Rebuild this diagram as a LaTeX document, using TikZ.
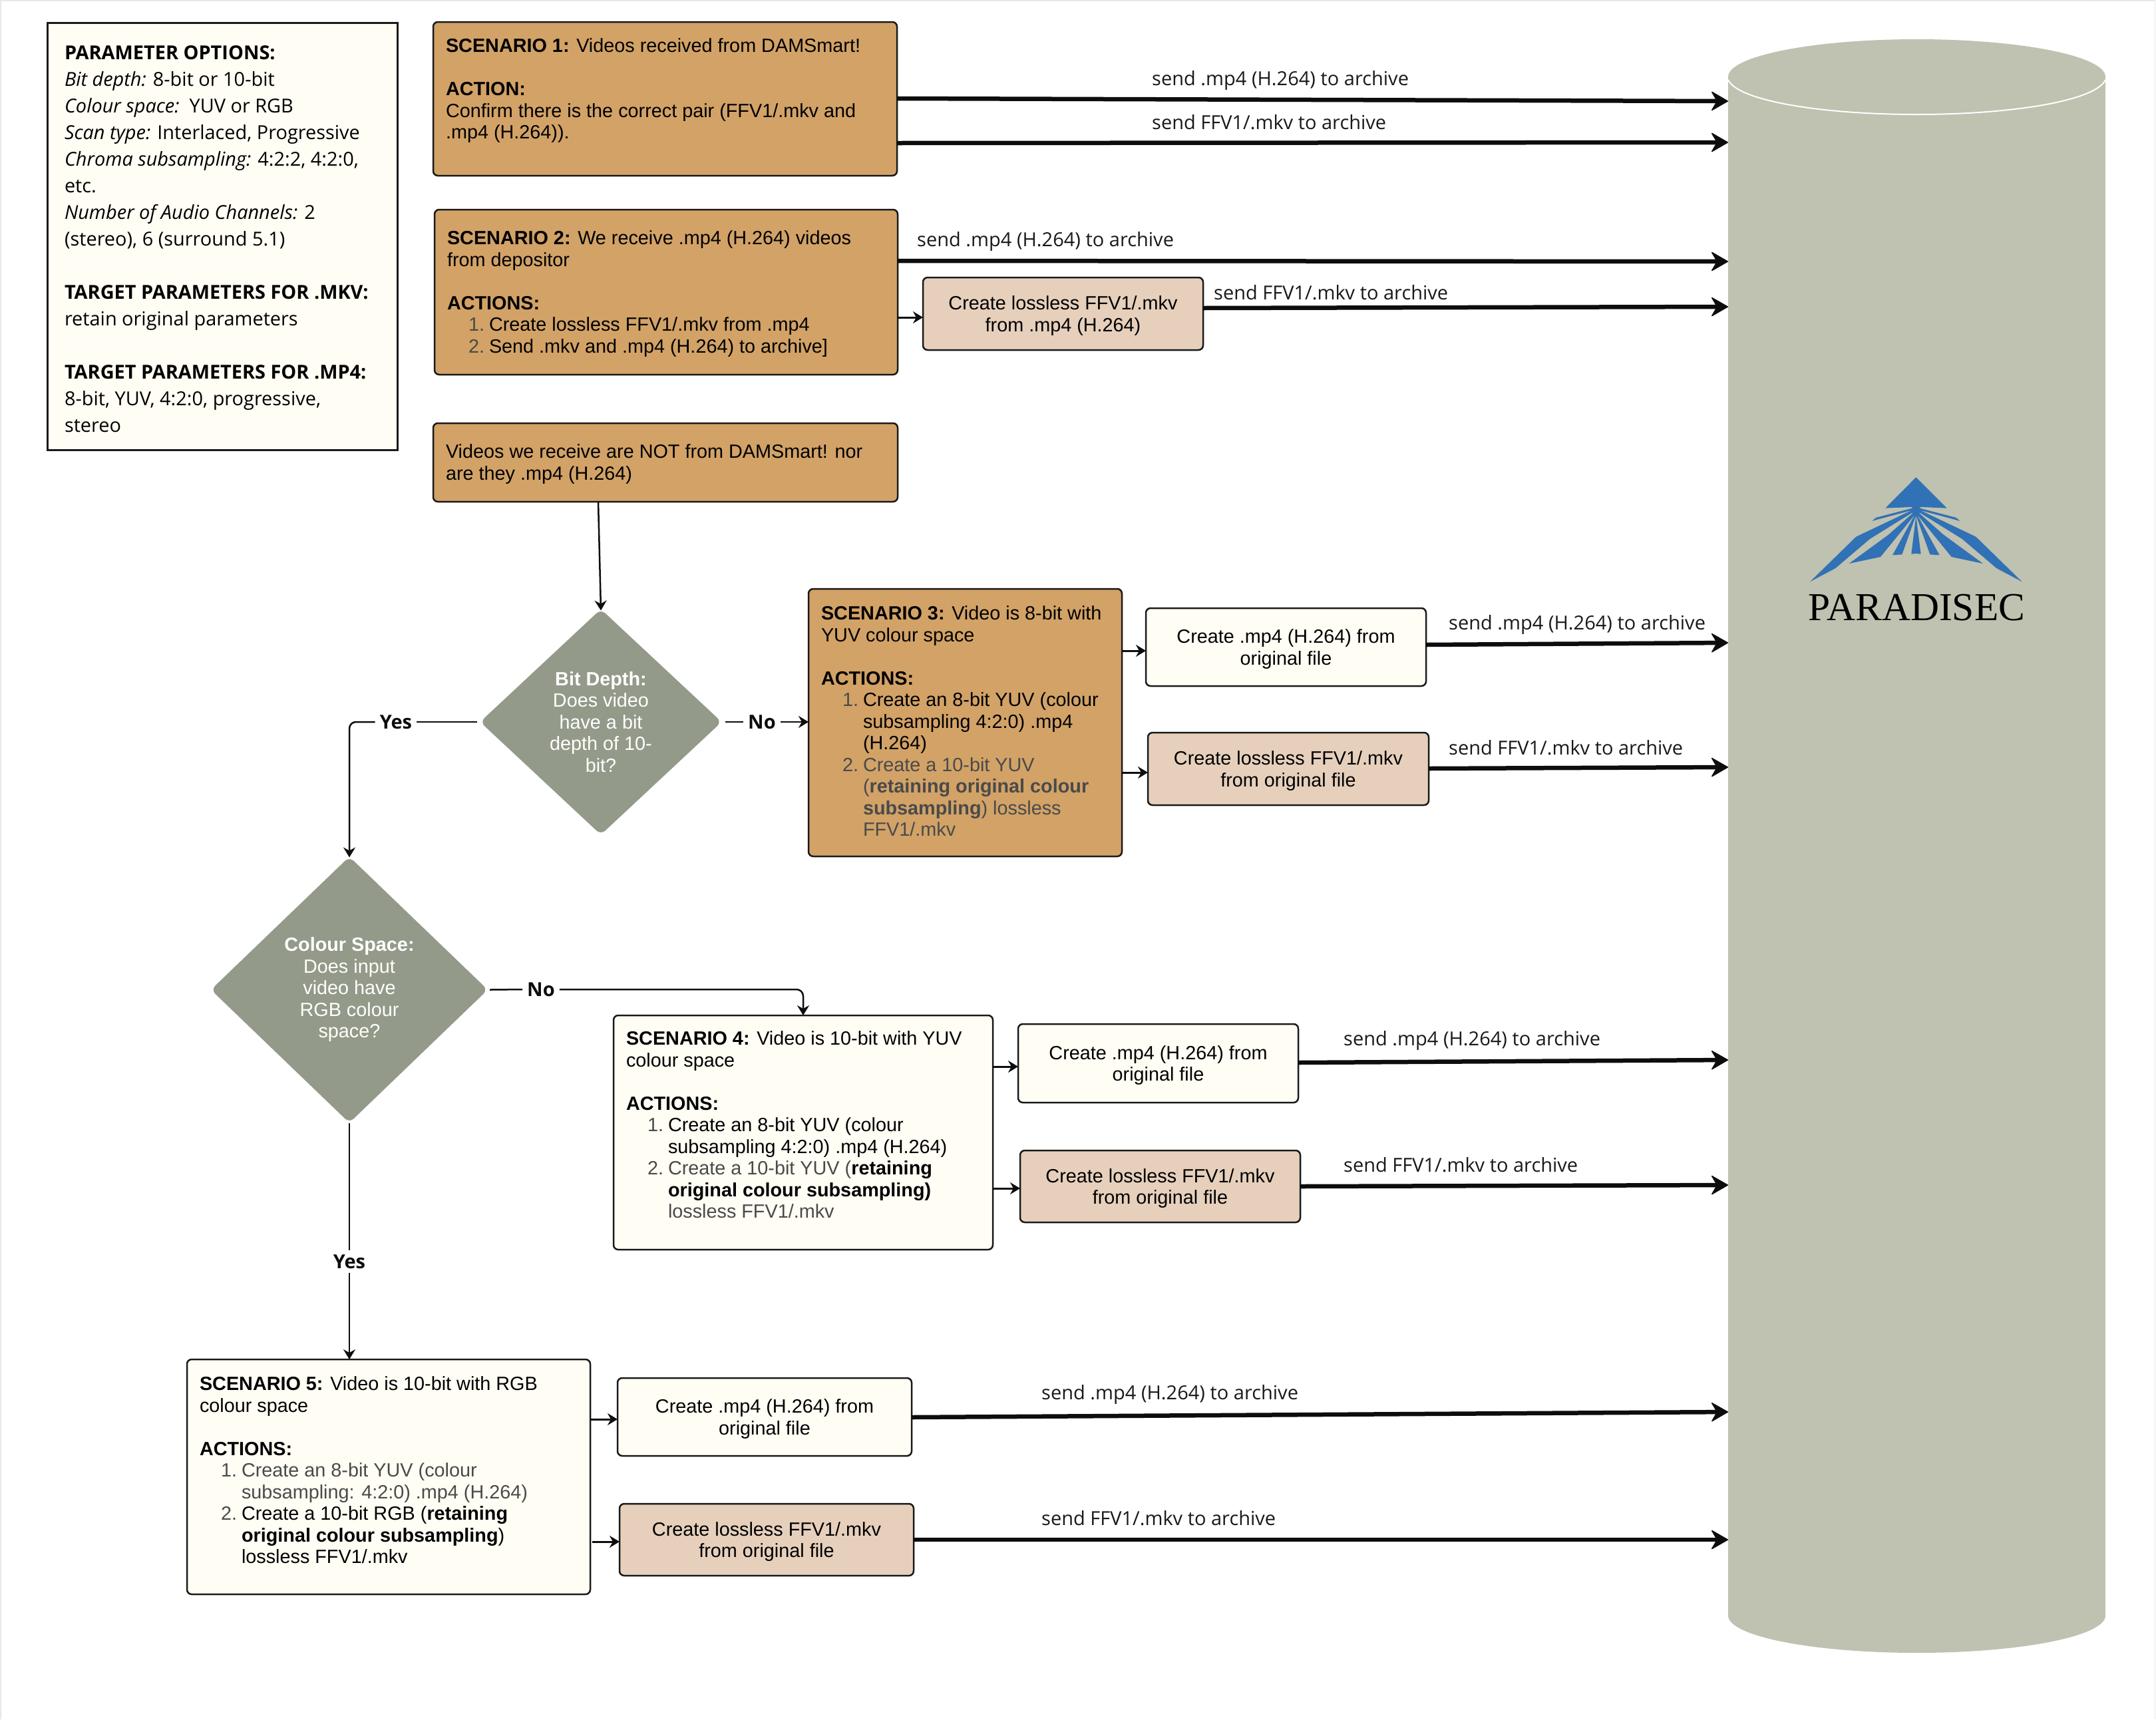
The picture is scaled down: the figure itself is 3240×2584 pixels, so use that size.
\documentclass[tikz,border=0pt]{standalone}
\usepackage{fontspec}
\usetikzlibrary{arrows.meta,shapes.geometric,calc}
\setmainfont{Liberation Sans}
\newfontfamily\opensans{Open Sans}
\newfontfamily\logofont{Liberation Serif}
\definecolor{tanbox}{HTML}{D2A267}
\definecolor{lightbox}{HTML}{FFFDF4}
\definecolor{llbox}{HTML}{E6D0BC}
\definecolor{diam}{HTML}{939A89}
\definecolor{cylc}{HTML}{BFC2B0}
\definecolor{logoblue}{HTML}{3171B5}
\definecolor{soft}{HTML}{4A4A4A}
\definecolor{edgeline}{HTML}{E8E8E8}
\newcommand\mainsize{\fontsize{28.8}{32.5}\selectfont}
\newcommand\optsize{\fontsize{28.9}{40}\selectfont}
% width, height, top padding, text
\newcommand\boxt[4]{\begin{minipage}[c][#2pt][t]{#1pt}\mainsize\vspace*{#3pt}\leftskip=19pt\rightskip=0pt plus 1fil\parindent=0pt\strut #4\end{minipage}}
\newcommand\numl[2]{\hspace*{32pt}\makebox[31pt][l]{\textcolor{soft}{#1}}#2}
\newcommand\cont[1]{\hspace*{63pt}#1}
\newcommand\softt[1]{\textcolor{soft}{#1}}
\newcommand\lift{\rule{0pt}{27pt}}
\tikzset{
  anybox/.style={draw=black!90,line width=2.5pt,rounded corners=7pt,inner sep=0pt,outer sep=0pt,anchor=north west},
  tanb/.style={anybox,fill=tanbox},
  lightb/.style={anybox,fill=lightbox},
  llb/.style={anybox,fill=llbox},
  smallb/.style={align=center,font=\mainsize},
  decide/.style={shape=diamond,fill=diam,rounded corners=9pt,inner sep=0pt,outer sep=0pt,align=center,text=white,font=\mainsize},
  sendlabel/.style={anchor=west,inner sep=0pt,text height=22pt,text depth=7pt,font=\opensans\fontsize{29}{32}\selectfont,text=black!90},
  yn/.style={inner xsep=7pt,inner ysep=0pt,text height=21pt,text depth=0pt,font=\opensans\bfseries\fontsize{29}{32}\selectfont,text=black!95},
  bigarrow/.style={line width=6.5pt,black!95,-{Stealth[length=27pt,width=31pt,inset=9pt,round,line width=1.5pt]}},
  midarrow/.style={line width=3pt,black!95,-{Stealth[length=15pt,width=18pt,inset=5pt]}},
  plainline/.style={line width=2.5pt,black!95},
  thinarrow/.style={line width=2.5pt,black!95,-{Stealth[length=15pt,width=18pt,inset=5pt]}},
}
\begin{document}
\begin{tikzpicture}[x=1pt,y=-1pt]
\useasboundingbox (0,0) rectangle (3240,2584);
\fill[white] (0,0) rectangle (3240,2584);
\draw[edgeline,line width=1.5pt] (1,2584) -- (1,1) -- (3238.5,1) -- (3238.5,2584);

% cylinder
\fill[cylc] (2597,115) rectangle (3164,2428);
\fill[cylc] (2880.5,2428) ellipse [x radius=283.5pt,y radius=56pt];
\fill[cylc] (2880.5,115.5) ellipse [x radius=283.5pt,y radius=56.5pt];
\draw[white,line width=2pt] (2597,120) .. controls (2612,152) and (2740,172) .. (2880.5,172) .. controls (3021,172) and (3149,152) .. (3164,120);
\coordinate (cyl) at (2597,0);

% logo
\begin{scope}[shift={(2700,700)},x=0.3333pt,y=-0.3333pt,fill=logoblue]
\fill (538,52) -- (677,191) -- (560,186) -- (538,195) -- (518,186) -- (400,191) -- cycle;
\fill (538,183) -- (520,190) -- (510,200) -- (538,232) -- (566,200) -- (556,190) -- cycle;
\foreach \s/\o in {1/0,-1/1076}{
\begin{scope}[shift={(\o,0)},xscale=\s]
\fill (522,191) -- (357,234) -- (340,249) -- (526,199) -- cycle;
\fill (524,198) -- (268,320) -- (60,523) -- (175,462) -- (330,330) -- (530,206) -- cycle;
\fill (530,208) -- (415,310) -- (236,441) -- (378,411) -- (535,218) -- cycle;
\fill (533,220) -- (432,403) -- (475,400) -- (537,226) -- cycle;
\end{scope}}
\fill (538,225) -- (517,398) -- (538,396) -- (560,398) -- cycle;
\end{scope}
\node[inner sep=0pt,font=\logofont\fontsize{59.5}{60}\selectfont,text=black] (logotext) at (2880.5,913) {PARADISEC};

% parameters box
\node[draw=black!90,line width=3pt,fill=lightbox,inner sep=0pt,outer sep=0pt,anchor=north west] (params) at (71,34) {\begin{minipage}[c][642pt][t]{526pt}\opensans\optsize\leftskip=26pt\rightskip=0pt plus 1fil\parindent=0pt\vspace*{27pt}\strut\textbf{PARAMETER OPTIONS:}\\
\textit{Bit depth:} 8-bit or 10-bit\\
\textit{Colour space:}\ \ YUV or RGB\\
\textit{Scan type:} Interlaced, Progressive\\
\textit{Chroma subsampling:} 4:2:2, 4:2:0,\\
etc.\\
\textit{Number of Audio Channels:} 2\\
(stereo), 6 (surround 5.1)\\
\mbox{}\\
\textbf{TARGET PARAMETERS FOR .MKV:}\\
retain original parameters\\
\mbox{}\\
\textbf{TARGET PARAMETERS FOR .MP4:}\\
8-bit, YUV, 4:2:0, progressive,\\
stereo\end{minipage}};

% scenario boxes
\node[tanb] (s1) at (651,33) {\boxt{697}{231}{23}{\textbf{SCENARIO 1:} Videos received from DAMSmart!\\
\mbox{}\\
\textbf{ACTION:}\\
Confirm there is the correct pair (FFV1/.mkv and\\
.mp4 (H.264)).}};
\node[tanb] (s2) at (653,315) {\boxt{696}{248}{30}{\textbf{SCENARIO 2:} We receive .mp4 (H.264) videos\\
from depositor\\
\mbox{}\\
\textbf{ACTIONS:}\\
\numl{1.}{Create lossless FFV1/.mkv from .mp4}\\
\numl{2.}{Send .mkv and .mp4 (H.264) to archive]}}};
\node[tanb] (notb) at (651,636) {\boxt{698}{118}{30}{Videos we receive are NOT from DAMSmart! nor\\
are they .mp4 (H.264)}};
\node[tanb] (s3) at (1215,885) {\boxt{471}{402}{24}{\textbf{SCENARIO 3:} Video is 8-bit with\\
YUV colour space\\
\mbox{}\\
\textbf{ACTIONS:}\\
\numl{1.}{Create an 8-bit YUV (colour}\\
\cont{subsampling 4:2:0) .mp4}\\
\cont{(H.264)}\\
\numl{2.}{\softt{Create a 10-bit YUV}}\\
\cont{\softt{(\textbf{retaining original colour}}}\\
\cont{\softt{\textbf{subsampling}) lossless}}\\
\cont{\softt{FFV1/.mkv}}}};
\node[lightb] (s4) at (922,1526) {\boxt{570}{352}{22}{\textbf{SCENARIO 4:} Video is 10-bit with YUV\\
colour space\\
\mbox{}\\
\textbf{ACTIONS:}\\
\numl{1.}{Create an 8-bit YUV (colour}\\
\cont{subsampling 4:2:0) .mp4 (H.264)}\\
\numl{2.}{\softt{Create a 10-bit YUV (}\textbf{retaining}}\\
\cont{\textbf{original colour subsampling)}}\\
\cont{\softt{lossless FFV1/.mkv}}}};
\node[lightb] (s5) at (281,2043) {\boxt{606}{353}{24}{\textbf{SCENARIO 5:} Video is 10-bit with RGB\\
colour space\\
\mbox{}\\
\textbf{ACTIONS:}\\
\numl{1.}{\softt{Create an 8-bit YUV (colour}}\\
\cont{\softt{subsampling: 4:2:0) .mp4 (H.264)}}\\
\numl{2.}{Create a 10-bit RGB (\textbf{retaining}}\\
\cont{\textbf{original colour subsampling})}\\
\cont{lossless FFV1/.mkv}}};

% small boxes
\node[llb,smallb,minimum width=421pt,minimum height=109pt] (ll2) at (1387,417) {\lift Create lossless FFV1/.mkv\\from .mp4 (H.264)};
\node[lightb,smallb,minimum width=421pt,minimum height=117pt] (mp3) at (1722,914) {\lift Create .mp4 (H.264) from\\original file};
\node[llb,smallb,minimum width=422pt,minimum height=109pt] (ll3) at (1725,1101) {\lift Create lossless FFV1/.mkv\\from original file};
\node[lightb,smallb,minimum width=421pt,minimum height=118pt] (mp4) at (1530,1539) {\lift Create .mp4 (H.264) from\\original file};
\node[llb,smallb,minimum width=421pt,minimum height=108pt] (ll4) at (1533,1729) {\lift Create lossless FFV1/.mkv\\from original file};
\node[lightb,smallb,minimum width=442pt,minimum height=117pt] (mp5) at (928,2071) {\lift Create .mp4 (H.264) from\\original file};
\node[llb,smallb,minimum width=442pt,minimum height=108pt] (ll5) at (931,2260) {\lift Create lossless FFV1/.mkv\\from original file};

% decisions
\node[decide,minimum width=363pt,minimum height=339pt] (d1) at (903,1085) {\textbf{Bit Depth:}\\Does video\\have a bit\\depth of 10-\\bit?};
\node[decide,minimum width=416pt,minimum height=400pt] (d2) at (525,1487.5) {\textbf{Colour Space:}\\Does input\\video have\\RGB colour\\space?};

% yes/no labels
\node[yn] (no1) at (1145,1085) {No};
\node[yn] (yes1) at (595,1085) {Yes};
\node[yn] (no2) at (813,1487) {No};
\node[yn,inner ysep=6pt,inner xsep=0pt] (yes2) at (525,1896) {Yes};

% flow connectors
\draw[thinarrow] (899,0 |- notb.south) -- ([yshift=-2pt]d1.north);
\draw[plainline] ([xshift=5pt]d1.east) -- (no1.west);
\draw[thinarrow] (no1.east) -- (s3.west |- no1.east);
\draw[plainline] ([xshift=-5pt]d1.west) -- (yes1.east);
\draw[thinarrow,rounded corners=10pt] (yes1.west) -| ([yshift=-1pt]d2.north);
\draw[plainline] ([xshift=3pt]d2.east) -- (no2.west);
\draw[thinarrow,rounded corners=10pt] (no2.east) -| (s4.north);
\draw[plainline] (d2.south) -- (yes2.north);
\draw[thinarrow] (yes2.south) -- (yes2.south |- s5.north);

\draw[midarrow] (s2.east |- 0,477) -- (ll2.west |- 0,477);
\draw[midarrow] (s3.east |- 0,978) -- (mp3.west |- 0,978);
\draw[midarrow] (s3.east |- 0,1161) -- (ll3.west |- 0,1161);
\draw[midarrow] (s4.east |- 0,1603) -- (mp4.west |- 0,1603);
\draw[midarrow] (s4.east |- 0,1786) -- (ll4.west |- 0,1786);
\draw[midarrow] (s5.east |- 0,2133) -- (mp5.west |- 0,2133);
\draw[midarrow] ([xshift=3pt]s5.east |- 0,2317) -- (ll5.west |- 0,2317);

% archive arrows
\draw[bigarrow] (s1.east |- 0,148) -- (cyl |- 0,152);
\draw[bigarrow] (s1.east |- 0,215) -- (cyl |- 0,214);
\draw[bigarrow] (s2.east |- 0,392) -- (cyl |- 0,393);
\draw[bigarrow] (ll2.east |- 0,463) -- (cyl |- 0,461);
\draw[bigarrow] (mp3.east |- 0,969) -- (cyl |- 0,966);
\draw[bigarrow] (ll3.east |- 0,1155) -- (cyl |- 0,1153);
\draw[bigarrow] (mp4.east |- 0,1597) -- (cyl |- 0,1593);
\draw[bigarrow] (ll4.east |- 0,1783) -- (cyl |- 0,1781);
\draw[bigarrow] (mp5.east |- 0,2130) -- (cyl |- 0,2122);
\draw[bigarrow] (ll5.east |- 0,2314) -- (cyl |- 0,2314);

% send labels
\node[sendlabel] (t1) at (1731,121) {send .mp4 (H.264) to archive};
\node[sendlabel] (t2) at (1731,187) {send FFV1/.mkv to archive};
\node[sendlabel] (t3) at (1378,363) {send .mp4 (H.264) to archive};
\node[sendlabel] (t4) at (1824,443) {send FFV1/.mkv to archive};
\node[sendlabel] (t5) at (2177,939) {send .mp4 (H.264) to archive};
\node[sendlabel] (t6) at (2177,1127) {send FFV1/.mkv to archive};
\node[sendlabel] (t7) at (2019,1564) {send .mp4 (H.264) to archive};
\node[sendlabel] (t8) at (2019,1754) {send FFV1/.mkv to archive};
\node[sendlabel] (t9) at (1565,2096) {send .mp4 (H.264) to archive};
\node[sendlabel] (t10) at (1565,2285) {send FFV1/.mkv to archive};
\end{tikzpicture}
\end{document}
